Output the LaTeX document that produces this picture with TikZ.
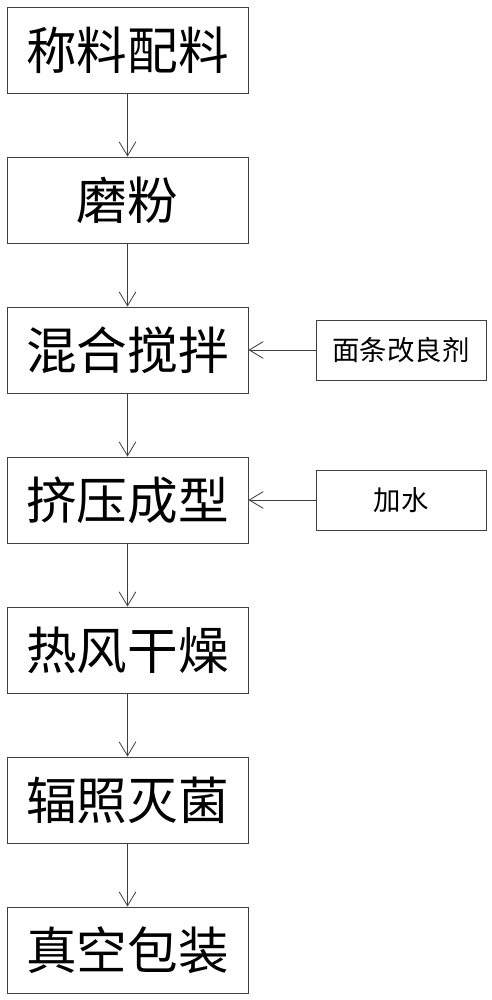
\documentclass[tikz,border=0pt]{standalone}
\usepackage{fontspec}
\setmainfont{Noto Sans CJK SC}
\usetikzlibrary{arrows.meta}
\begin{document}
\begin{tikzpicture}[x=0.025cm,y=-0.025cm,>={Straight Barb[length=0.35cm,width=0.42cm]},
    stepbox/.style={draw=black!75,line width=0.6pt,minimum width=6.025cm,minimum height=2.15cm,inner sep=0pt,font=\fontsize{36}{40}\selectfont},
    addbox/.style={draw=black!75,line width=0.6pt,minimum width=4.25cm,minimum height=1.5cm,inner sep=0pt,font=\fontsize{19.5}{22}\selectfont}]

    \useasboundingbox (0,0) rectangle (492,1000);

    % process steps
    \foreach \t [count=\i] in {称料配料,磨粉,混合搅拌,挤压成型,热风干燥,辐照灭菌,真空包装} {
        \node[stepbox] (s\i) at (127.5,\i*150-100) {\t};
    }
    \foreach \i [evaluate=\i as \j using int(\i+1)] in {1,...,6} {
        \draw[->,black!75,line width=0.6pt] (s\i) -- (s\j);
    }

    % additives
    \node[addbox] (a1) at (401,350) {面条改良剂};
    \node[addbox] (a2) at (401,500) {加水};
    \draw[->,black!75,line width=0.6pt] (a1) -- (s3);
    \draw[->,black!75,line width=0.6pt] (a2) -- (s4);

\end{tikzpicture}
\end{document}
